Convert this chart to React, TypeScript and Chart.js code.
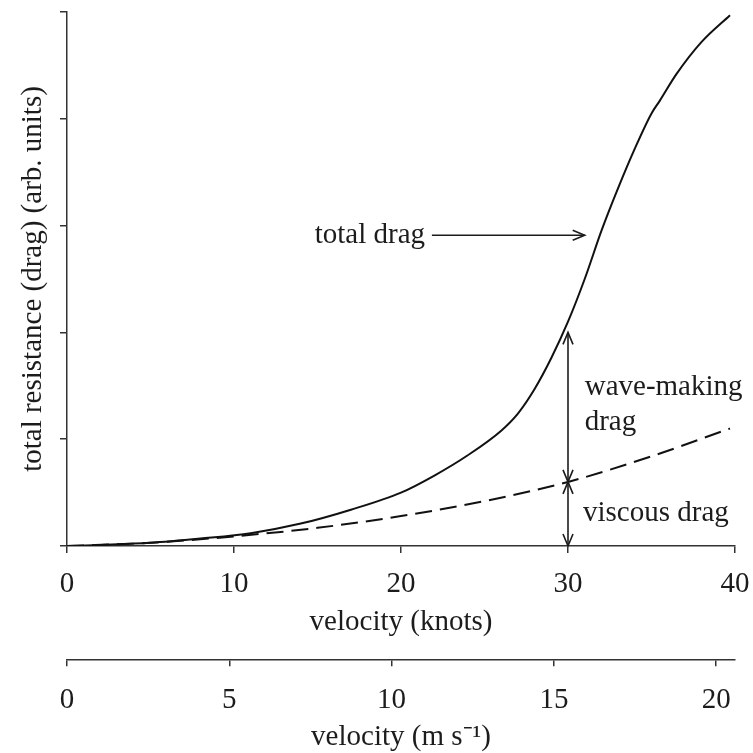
import React, { useEffect, useRef } from "react";
import { Chart, registerables } from "chart.js";

Chart.register(...registerables);

// ---- data ----
const totalKnots = [0, 2, 5, 8, 11, 14, 17, 20, 22, 24, 26, 27, 28, 29, 30, 31, 32, 33, 34, 35, 35.5, 36.5, 38, 39.7];
const totalDrag = [0, 0.01, 0.03, 0.07, 0.12, 0.21, 0.34, 0.5, 0.66, 0.85, 1.08, 1.24, 1.47, 1.76, 2.1, 2.5, 2.95, 3.35, 3.72, 4.05, 4.17, 4.42, 4.72, 4.97];
const viscousKnots = [0, 5, 10, 15, 20, 25, 30, 35, 39.7];
const viscousDrag = [0, 0.03, 0.09, 0.17, 0.28, 0.42, 0.6, 0.84, 1.1];

const knotTicks = [0, 10, 20, 30, 40];
const msTicks = [0, 5, 10, 15, 20];
const KNOT_TO_MS = 0.514444;
const yMax = 5;

// annotation anchors (data units)
const markKnots = 30;
const viscousAt30 = 0.6;
const totalAt30 = 2.0;
const totalLabel = { text: "total drag", x: 21.44, y: 2.91, arrowFrom: 21.85, arrowTo: 31.0 };
const waveLabel = { lines: ["wave-making", "drag"], x: 31.0, y: [1.484, 1.16] };
const viscousLabel = { text: "viscous drag", x: 30.9, y: 0.304 };

const FONT = '"Liberation Serif", "Times New Roman", serif';
const INK = "#1c1c1c";
const AXIS = "#333";

function head(ctx: CanvasRenderingContext2D, tx: number, ty: number, dx: number, dy: number) {
  const len = 12, w = 5;
  const px = -dy, py = dx;
  ctx.beginPath();
  ctx.moveTo(tx - dx * len + px * w, ty - dy * len + py * w);
  ctx.lineTo(tx, ty);
  ctx.lineTo(tx - dx * len - px * w, ty - dy * len - py * w);
  ctx.stroke();
}

const annotations = {
  id: "dragAnnotations",
  afterDraw(chart: any) {
    const { ctx } = chart;
    const x = chart.scales.x;
    const y = chart.scales.y;
    ctx.save();
    ctx.strokeStyle = INK;
    ctx.fillStyle = INK;
    ctx.lineWidth = 1.6;
    ctx.font = `29px ${FONT}`;
    ctx.textBaseline = "middle";

    // total drag arrow
    const ay = y.getPixelForValue(totalLabel.y);
    const ax0 = x.getPixelForValue(totalLabel.arrowFrom);
    const ax1 = x.getPixelForValue(totalLabel.arrowTo);
    ctx.beginPath();
    ctx.moveTo(ax0, ay);
    ctx.lineTo(ax1, ay);
    ctx.stroke();
    head(ctx, ax1, ay, 1, 0);
    ctx.textAlign = "right";
    ctx.fillText(totalLabel.text, x.getPixelForValue(totalLabel.x), ay);

    // vertical double arrows at 30 knots
    const mx = x.getPixelForValue(markKnots);
    const yTop = y.getPixelForValue(totalAt30);
    const yMid = y.getPixelForValue(viscousAt30);
    const yBot = y.getPixelForValue(0);
    ctx.beginPath();
    ctx.moveTo(mx, yTop);
    ctx.lineTo(mx, yBot);
    ctx.stroke();
    head(ctx, mx, yTop, 0, -1);
    head(ctx, mx, yMid, 0, 1);
    head(ctx, mx, yMid, 0, -1);
    head(ctx, mx, yBot, 0, 1);

    ctx.textAlign = "left";
    waveLabel.lines.forEach((t, i) => {
      ctx.fillText(t, x.getPixelForValue(waveLabel.x), y.getPixelForValue(waveLabel.y[i]));
    });
    ctx.fillText(viscousLabel.text, x.getPixelForValue(viscousLabel.x), y.getPixelForValue(viscousLabel.y));
    ctx.restore();
  },
};

export default function App() {
  const ref = useRef<HTMLCanvasElement | null>(null);

  useEffect(() => {
    if (!ref.current) return;
    const grid = {
      drawOnChartArea: false,
      drawTicks: true,
      tickLength: 7,
      color: AXIS,
      lineWidth: 1.5,
    };
    const border = { display: true, color: AXIS, width: 1.5 };

    const chart = new Chart(ref.current, {
      type: "scatter",
      data: {
        datasets: [
          {
            label: "viscous drag",
            data: viscousKnots.map((k, i) => ({ x: k, y: viscousDrag[i] })),
            showLine: true,
            borderColor: "#111",
            borderWidth: 2,
            borderDash: [17, 8],
            pointRadius: 0,
            cubicInterpolationMode: "monotone",
            xAxisID: "x",
          },
          {
            label: "total drag",
            data: totalKnots.map((k, i) => ({ x: k, y: totalDrag[i] })),
            showLine: true,
            borderColor: "#111",
            borderWidth: 2,
            pointRadius: 0,
            cubicInterpolationMode: "monotone",
            xAxisID: "x",
          },
        ],
      },
      options: {
        animation: false,
        responsive: false,
        devicePixelRatio: 1,
        layout: { padding: { left: 0, top: 12, right: 18, bottom: 12.7 } },
        plugins: { legend: { display: false }, tooltip: { enabled: false } },
        scales: {
          x: {
            type: "linear",
            position: "bottom",
            min: 0,
            max: 40,
            grid,
            border,
            afterBuildTicks: (s: any) => {
              s.ticks = knotTicks.map((v) => ({ value: v }));
            },
            ticks: {
              font: { family: FONT, size: 29, lineHeight: 2.152 },
              color: INK,
              padding: 0,
              maxRotation: 0,
              includeBounds: false,
            },
            title: {
              display: true,
              text: "velocity (knots)",
              font: { family: FONT, size: 29, lineHeight: 0.5 },
              color: INK,
              padding: { top: 0, bottom: 29.4 },
            },
          },
          x2: {
            type: "linear",
            position: "bottom",
            min: 0,
            max: 40 * KNOT_TO_MS,
            grid,
            border,
            afterBuildTicks: (s: any) => {
              s.ticks = msTicks.map((v) => ({ value: v }));
            },
            ticks: {
              font: { family: FONT, size: 29, lineHeight: 2.338 },
              color: INK,
              padding: 0,
              maxRotation: 0,
              includeBounds: false,
            },
            title: {
              display: true,
              text: "velocity (m s\u207B\u00B9)",
              font: { family: FONT, size: 29, lineHeight: 0.2138 },
              color: INK,
              padding: { top: 0, bottom: 0 },
            },
          },
          y: {
            type: "linear",
            position: "left",
            min: 0,
            max: yMax,
            grid,
            border,
            ticks: { display: false, stepSize: 1 },
            title: {
              display: true,
              text: "total resistance (drag) (arb. units)",
              font: { family: FONT, size: 29, lineHeight: 1 },
              color: INK,
              padding: { top: 19.2, bottom: 11.8 },
            },
          },
        },
      },
      plugins: [annotations],
    } as any);
    return () => chart.destroy();
  }, []);

  return (
    <div style={{ position: "fixed", left: 0, top: 0, width: 753, height: 753, background: "#fff" }}>
      <canvas ref={ref} width={753} height={753} style={{ display: "block" }} />
    </div>
  );
}
